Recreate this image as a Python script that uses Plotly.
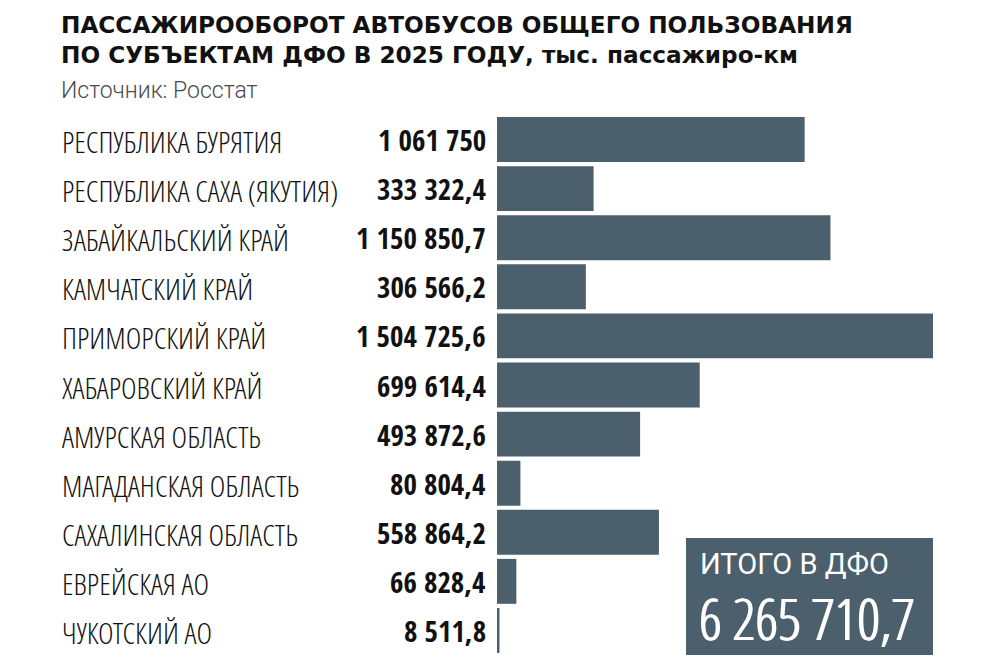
import plotly.graph_objects as go

regions = [
    "РЕСПУБЛИКА БУРЯТИЯ",
    "РЕСПУБЛИКА САХА (ЯКУТИЯ)",
    "ЗАБАЙКАЛЬСКИЙ КРАЙ",
    "КАМЧАТСКИЙ КРАЙ",
    "ПРИМОРСКИЙ КРАЙ",
    "ХАБАРОВСКИЙ КРАЙ",
    "АМУРСКАЯ ОБЛАСТЬ",
    "МАГАДАНСКАЯ ОБЛАСТЬ",
    "САХАЛИНСКАЯ ОБЛАСТЬ",
    "ЕВРЕЙСКАЯ АО",
    "ЧУКОТСКИЙ АО",
]
passenger_km = [
    1061750, 333322.4, 1150850.7, 306566.2, 1504725.6, 699614.4,
    493872.6, 80804.4, 558864.2, 66828.4, 8511.8,
]

BAR = "#4b5f6c"
W, H = 1000, 667
COND_LIGHT = "Open Sans Condensed Light"
COND_BOLD = "Open Sans Condensed"   # only the bold cut is installed under this name


def fmt(v):
    # russian style: groups split by spaces, decimal comma
    if float(v).is_integer():
        s = f"{int(v):,}".replace(",", " ")
    else:
        s = f"{v:,.1f}".replace(",", " ").replace(".", ",")
    return s


def py(pix):
    # pixel from top -> paper y
    return 1 - pix / H


total = round(sum(passenger_km), 1)

fig = go.Figure()
fig.add_trace(go.Bar(
    y=regions,
    x=passenger_km,
    orientation="h",
    marker=dict(color=BAR, line=dict(width=0)),
    hoverinfo="skip",
))

annotations = []
for name, v in zip(regions, passenger_km):
    annotations.append(dict(
        x=0.060, xref="paper", y=name, yref="y", yshift=-2,
        text=name, showarrow=False, xanchor="left", yanchor="middle",
        font=dict(family=COND_LIGHT, size=30, color="#111111"),
    ))
    annotations.append(dict(
        x=0.488, xref="paper", y=name, yref="y",
        text=fmt(v), showarrow=False, xanchor="right", yanchor="middle",
        font=dict(family=COND_BOLD, size=29, color="#111111"),
    ))

# title and source
annotations.append(dict(
    x=0.059, xref="paper", y=py(9), yref="paper",
    text="<b>ПАССАЖИРООБОРОТ АВТОБУСОВ ОБЩЕГО ПОЛЬЗОВАНИЯ</b><br>"
         "<b>ПО СУБЪЕКТАМ ДФО В 2025 ГОДУ, тыс. пассажиро-км</b>",
    showarrow=False, xanchor="left", yanchor="top", align="left",
    font=dict(family="DejaVu Sans", size=23.2, color="#111111"),
))
annotations.append(dict(
    x=0.059, xref="paper", y=py(75), yref="paper",
    text="Источник: Росстат", showarrow=False, xanchor="left", yanchor="top",
    font=dict(family="Roboto", weight=300, size=23, color="#4a4a4a"),
))

# total box
annotations.append(dict(
    x=0.698, xref="paper", y=py(564), yref="paper",
    text="ИТОГО В ДФО", showarrow=False, xanchor="left", yanchor="middle",
    font=dict(family="Roboto", size=29, color="white"),
))
annotations.append(dict(
    x=0.697, xref="paper", y=py(618), yref="paper",
    text=fmt(total), showarrow=False, xanchor="left", yanchor="middle",
    font=dict(family=COND_LIGHT, size=57, color="white",
              shadow="0.8px 0 0 white, -0.8px 0 0 white"),
))

fig.update_layout(
    width=W, height=H,
    margin=dict(l=0, r=0, t=0, b=0),
    paper_bgcolor="white", plot_bgcolor="white",
    showlegend=False,
    bargap=0.085,
    xaxis=dict(domain=[0.497, 0.933], range=[0, max(passenger_km)],
               visible=False, fixedrange=True),
    yaxis=dict(domain=[py(655), py(115)], autorange="reversed",
               visible=False, fixedrange=True),
    shapes=[dict(type="rect", xref="paper", yref="paper",
                 x0=0.686, x1=0.933, y0=py(655), y1=py(538),
                 fillcolor=BAR, line=dict(width=0), layer="above")],
    annotations=annotations,
)

fig.write_html("out.html", config={"displayModeBar": False},
               post_script="document.body.style.margin='0';")
